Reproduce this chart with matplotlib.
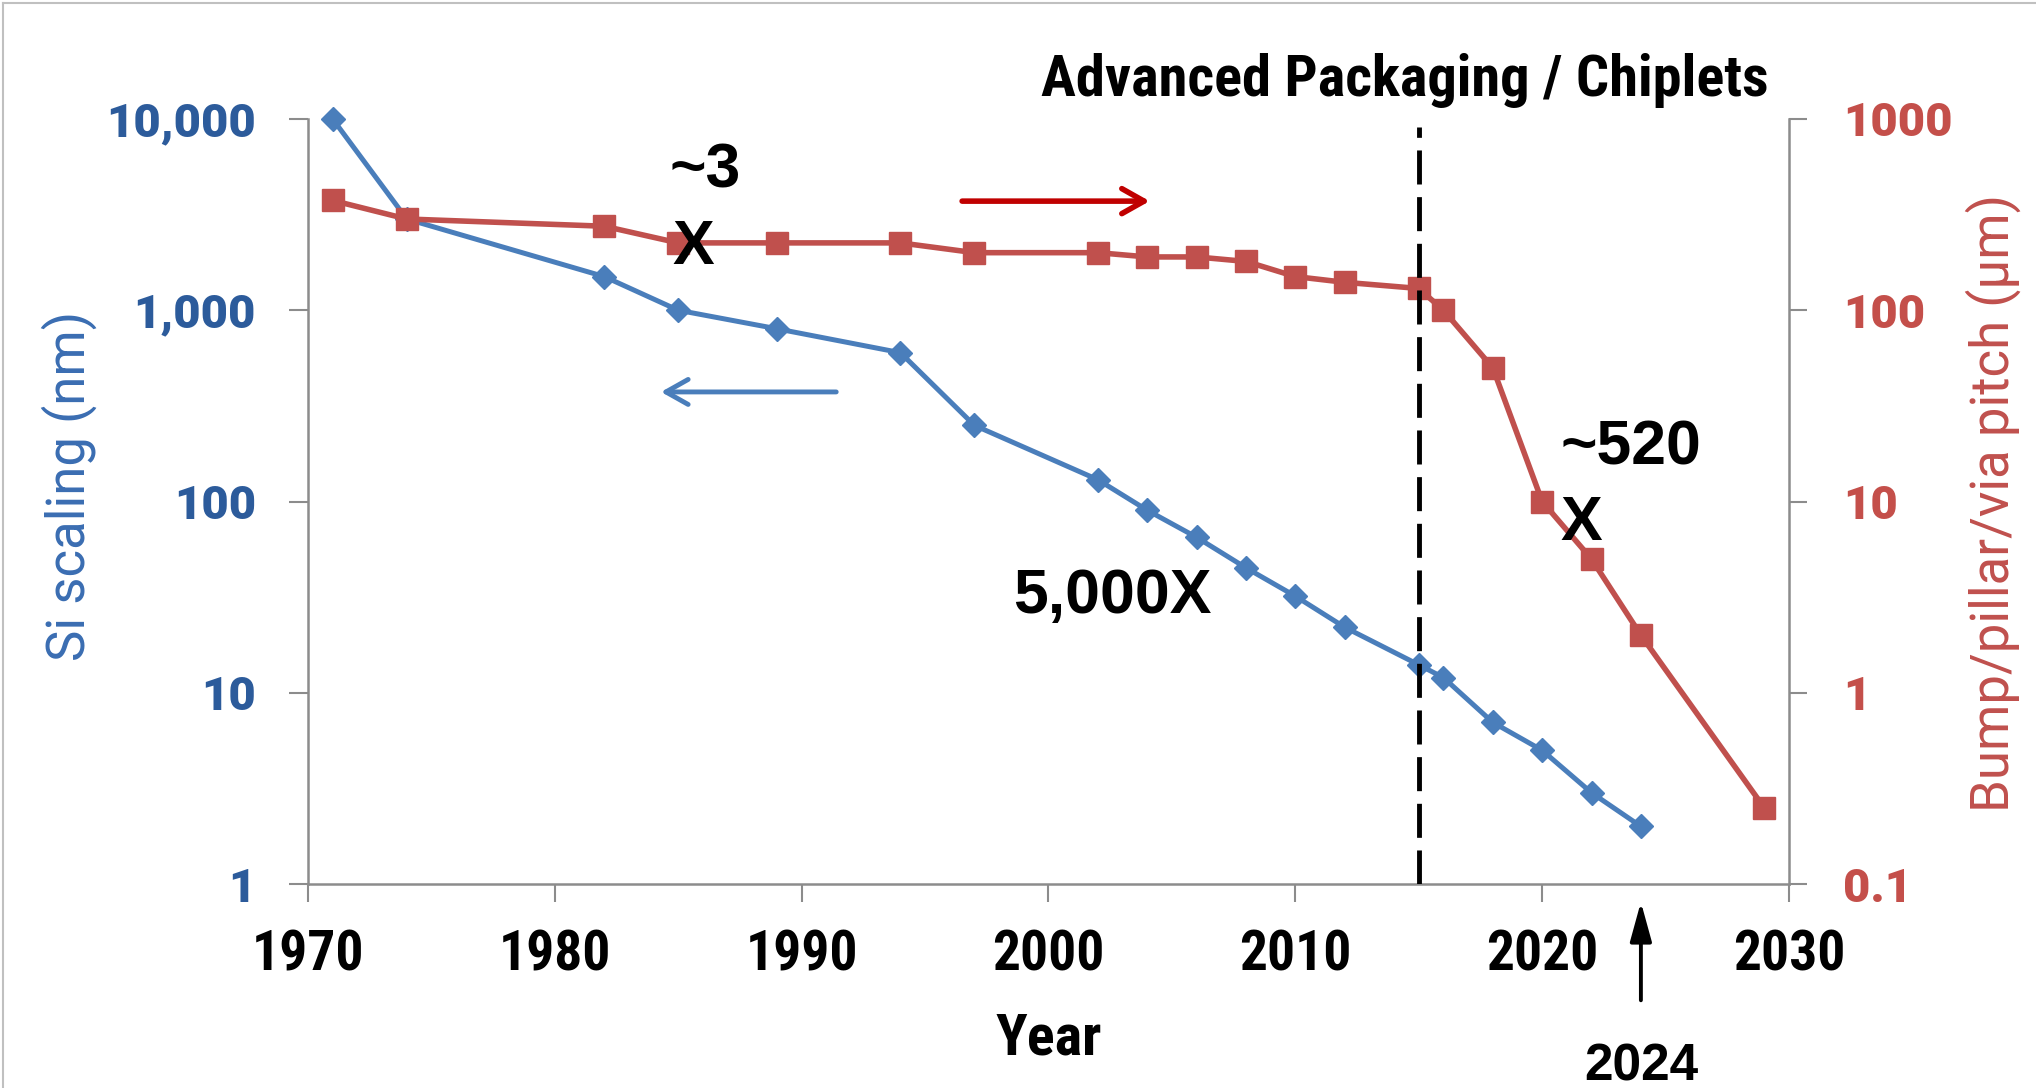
import matplotlib
matplotlib.use("Agg")
import matplotlib.pyplot as plt
from matplotlib import font_manager
from matplotlib.lines import Line2D
from matplotlib.ticker import NullLocator

# --- FONTS ---
installed = {f.name for f in font_manager.fontManager.ttflist}


def pick(*names):
    for n in names:
        if n in installed:
            return n
    return "DejaVu Sans"


NARROW = pick("Liberation Sans Narrow", "Roboto Condensed", "Liberation Sans")
ARIAL = pick("Liberation Sans", "Arimo")
ROBOTO = pick("Roboto", "Open Sans")

# --- DATA ---
si_years = [1971, 1974, 1982, 1985, 1989, 1994, 1997, 2002, 2004, 2006,
            2008, 2010, 2012, 2015, 2016, 2018, 2020, 2022, 2024]
si_nm = [10000, 3000, 1500, 1000, 800, 600, 250, 130, 90, 65,
         45, 32, 22, 14, 12, 7, 5, 3, 2]

pitch_years = [1971, 1974, 1982, 1985, 1989, 1994, 1997, 2002, 2004, 2006,
               2008, 2010, 2012, 2015, 2016, 2018, 2020, 2022, 2024, 2029]
pitch_um = [375, 300, 275, 225, 225, 225, 200, 200, 190, 190,
            180, 150, 140, 130, 100, 50, 10, 5, 2, 0.25]

year_ticks = [1970, 1980, 1990, 2000, 2010, 2020, 2030]
si_ticks = [1, 10, 100, 1000, 10000]
si_tick_labels = ["1", "10", "100", "1,000", "10,000"]
pitch_ticks = [0.1, 1, 10, 100, 1000]
pitch_tick_labels = ["0.1", "1", "10", "100", "1000"]

chiplet_year = 2015
today_year = 2024

# --- COLOURS ---
BLUE = "#4A7EBB"
BLUE_TXT = "#2C5B9B"
BLUE_LABEL = "#3A6DB2"
RED = "#C0504D"
RED_TXT = "#C44F4A"
DARK_RED = "#C00000"
GRAY = "#8C8C8C"

fig = plt.figure(figsize=(20.36, 10.88), dpi=100)
ax = fig.add_axes([308 / 2036, 204 / 1088, 1481 / 2036, 765 / 1088])
ax2 = ax.twinx()

# --- SERIES ---
ax.plot(si_years, si_nm, color=BLUE, lw=3.6, marker="D", ms=12.5,
        zorder=3, clip_on=False)
ax2.plot(pitch_years, pitch_um, color=RED, lw=4, marker="s", ms=15.5,
         zorder=3, clip_on=False)

# --- AXES ---
ax.set_xlim(1970, 2030)
ax.set_yscale("log")
ax.set_ylim(1, 10000)
ax2.set_yscale("log")
ax2.set_ylim(0.1, 1000)

ax.set_xticks(year_ticks)
ax.set_xticklabels([str(y) for y in year_ticks], fontfamily=NARROW,
                   fontweight="bold", fontsize=40)
ax.set_yticks(si_ticks)
ax.set_yticklabels(si_tick_labels, fontfamily=ROBOTO, fontweight="heavy", fontsize=34)
ax.yaxis.set_minor_locator(NullLocator())
ax2.set_yticks(pitch_ticks)
ax2.set_yticklabels(pitch_tick_labels, fontfamily=ROBOTO, fontweight="heavy", fontsize=34)
ax2.yaxis.set_minor_locator(NullLocator())

for a in (ax, ax2):
    for s in a.spines.values():
        s.set_color(GRAY)
        s.set_linewidth(1.8)
ax.spines["top"].set_visible(False)
ax.spines["right"].set_visible(False)
for s in ("top", "left", "bottom"):
    ax2.spines[s].set_visible(False)

ax.tick_params(axis="y", direction="out", length=13.5, width=1.5, color=GRAY,
               pad=24, labelcolor=BLUE_TXT)
ax.tick_params(axis="x", direction="out", length=13, width=1.5, color=GRAY,
               pad=20, labelcolor="black")
ax2.tick_params(axis="y", direction="out", length=13, width=1.5, color=GRAY,
                pad=26, labelcolor=RED_TXT)

ax.set_xlabel("Year", fontfamily=NARROW, fontweight="bold", fontsize=42)
ax.xaxis.set_label_coords(0.5, -0.2026)
ax.xaxis.label.set_va("center")

ax.set_ylabel("Si scaling (nm)", fontfamily=ROBOTO, fontsize=38, color=BLUE_LABEL)
ax.yaxis.set_label_coords(-0.161, 0.52)
ax.yaxis.label.set_va("center")

ax2.set_ylabel("Bump/pillar/via pitch (µm)", fontfamily=ROBOTO, fontsize=38, color=RED)
ax2.yaxis.set_label_coords(1.138, 0.498)
ax2.yaxis.label.set_va("center")

# --- CHIPLET ERA MARKER ---
ax2.axvline(chiplet_year, ymin=0, ymax=0.99, color="black", lw=3.5,
            dashes=(7, 2.6), zorder=5)
fig.text(1405 / 2036, 1 - 80 / 1088, "Advanced Packaging / Chiplets",
         fontfamily=NARROW, fontweight="bold", fontsize=42,
         ha="center", va="center")

# --- ANNOTATIONS (placed in left-axis units) ---
note = dict(transform=ax.transData, fontfamily=ARIAL, fontweight="bold",
            fontsize=45, ha="center", va="center", zorder=6)
ax2.text(1986.1, 5350, "~3", **note)
ax2.text(1985.6, 2140, "X", **note)
ax2.text(2002.6, 32, "5,000X", **note)
ax2.text(2023.6, 190, "~520", **note)
ax2.text(2021.6, 77, "X", **note)

# which axis each series belongs to
ax2.annotate("", xy=(2004.1, 3720), xytext=(1996.5, 3720),
             xycoords=ax.transData, textcoords=ax.transData,
             arrowprops=dict(arrowstyle="->,head_length=0.8,head_width=0.45",
                             mutation_scale=20, color=DARK_RED, lw=4,
                             shrinkA=0, shrinkB=0))
ax2.annotate("", xy=(1984.3, 374), xytext=(1991.4, 374),
             xycoords=ax.transData, textcoords=ax.transData,
             arrowprops=dict(arrowstyle="->,head_length=0.8,head_width=0.45",
                             mutation_scale=20, color=BLUE, lw=3.5,
                             shrinkA=0, shrinkB=0))

# current year pointer under the x axis
xt = ax.get_xaxis_transform()
ax2.annotate("", xy=(today_year, -0.0235), xytext=(today_year, -0.152),
             xycoords=xt, textcoords=xt, annotation_clip=False,
             arrowprops=dict(arrowstyle="-|>,head_length=1.2,head_width=0.33",
                             mutation_scale=20, color="black", lw=2.8,
                             shrinkA=0, shrinkB=0))
ax2.text(today_year, -0.239, str(today_year), transform=xt, fontfamily=ARIAL,
         fontweight="bold", fontsize=37, ha="center", va="center")

# thin frame on the top and left edges
fig.add_artist(Line2D([0.0015, 0.0015], [0, 0.9972], transform=fig.transFigure,
                      color="#C0C0C0", lw=1.5))
fig.add_artist(Line2D([0.0015, 1], [0.9972, 0.9972], transform=fig.transFigure,
                      color="#C0C0C0", lw=1.5))

fig.savefig("out.png", dpi=100, facecolor="white")
